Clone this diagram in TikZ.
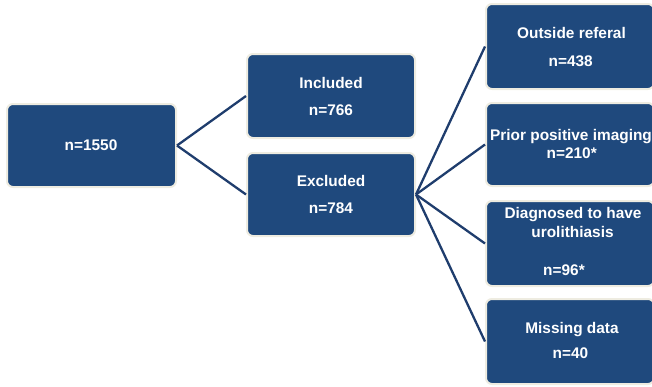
\documentclass[tikz,border=0pt]{standalone}
\usepackage{fontspec}
\setmainfont{Liberation Sans}
\definecolor{boxblue}{HTML}{1F497D}
\definecolor{boxrim}{HTML}{EEECE1}
\definecolor{linkblue}{HTML}{1F3D6D}
\begin{document}
\begin{tikzpicture}[x=1pt,y=-1pt,
  box/.style={draw=boxrim,fill=boxblue,line width=2pt,rounded corners=6pt,
    minimum width=168pt,minimum height=84pt,inner sep=0pt,outer sep=1pt},
  txt/.style={anchor=base,text=white,inner sep=0pt,
    font=\fontsize{15.4}{18.5}\selectfont\bfseries},
  link/.style={draw=linkblue,line width=2.3pt}]
\useasboundingbox (0,0) rectangle (652,386);
\clip (0,0) rectangle (652,386);
% boxes
\node[box,minimum width=169pt,minimum height=83pt] (all) at (91.5,145.5) {};
\node[box,minimum height=84pt] (inc) at (331,96) {};
\node[box,minimum height=83pt] (exc) at (331,194.5) {};
\node[box,minimum height=85pt] (out) at (570,46.5) {};
\node[box,minimum height=83pt] (pri) at (570,144.5) {};
\node[box,minimum height=85pt] (dia) at (570,243.5) {};
\node[box,minimum height=85pt] (mis) at (570,341.5) {};
% connectors
\draw[link] (all.east) -- (inc.west);
\draw[link] (all.east) -- (exc.west);
\draw[link] (exc.east) -- (out.west);
\draw[link] (exc.east) -- (pri.west);
\draw[link] (exc.east) -- (dia.west);
\draw[link] (exc.east) -- (mis.west);
% texts
\node[txt] (all-t1) at (91,150.8) {n=1550};
\node[txt] (inc-t1) at (331,88.2) {Included};
\node[txt] (inc-t2) at (331,115.5) {n=766};
\node[txt] (exc-t1) at (331,186.2) {Excluded};
\node[txt] (exc-t2) at (331,213.2) {n=784};
\node[txt] (out-t1) at (571.5,38.8) {Outside referal};
\node[txt] (out-t2) at (570.7,66.5) {n=438};
\node[txt] (pri-t1) at (571,140) {Prior positive imaging};
\node[txt] (pri-t2) at (571.7,158) {n=210*};
\node[txt] (dia-t1) at (573,218.3) {Diagnosed to have};
\node[txt] (dia-t2) at (572.5,237.5) {urolithiasis};
\node[txt] (dia-t3) at (564,275) {n=96*};
\node[txt] (mis-t1) at (572,333) {Missing data};
\node[txt] (mis-t2) at (570.5,358) {n=40};
\end{tikzpicture}
\end{document}
